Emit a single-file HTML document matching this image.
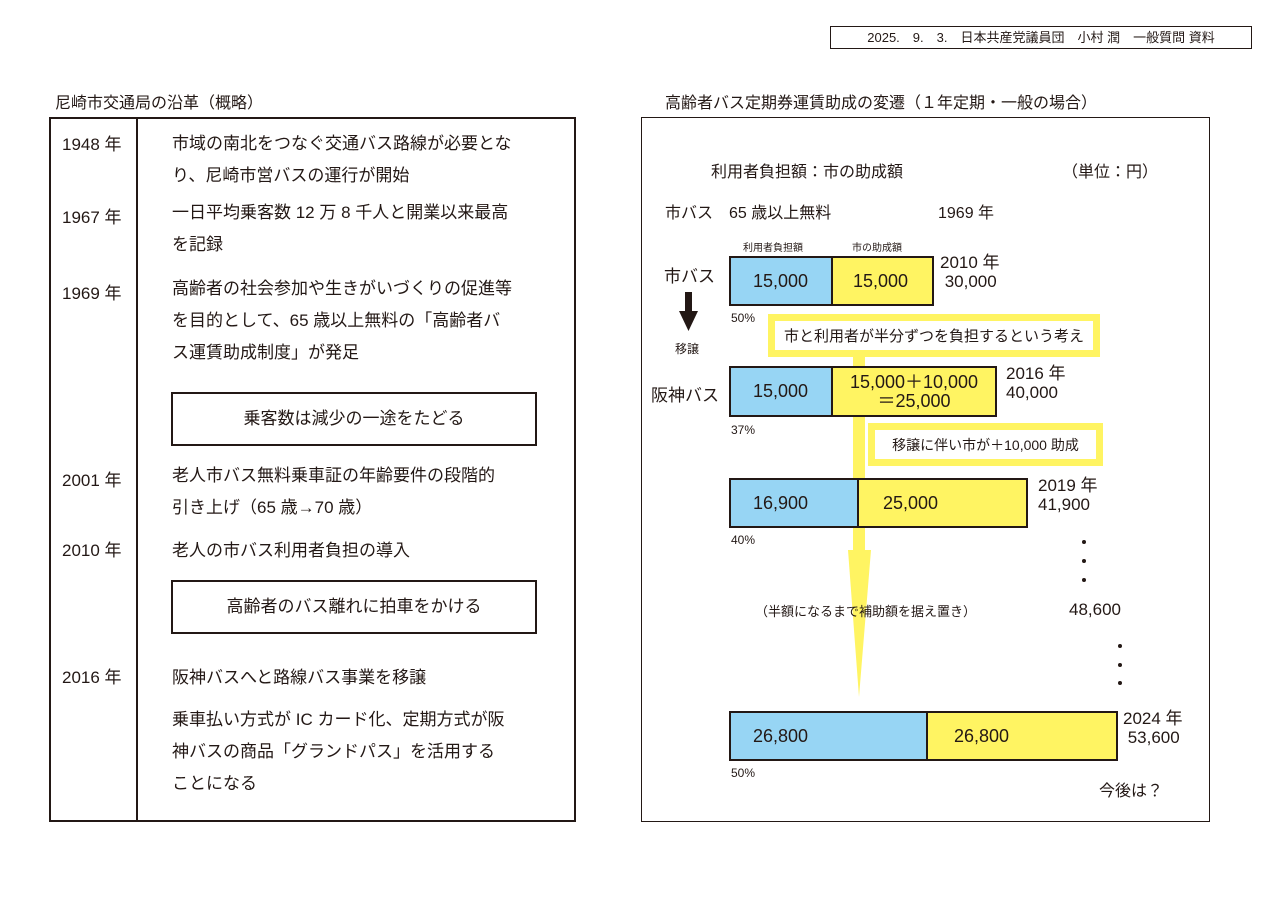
<!DOCTYPE html>
<html><head><meta charset="utf-8"><style>
body{margin:0;width:1273px;height:899px;background:#fff;position:relative;overflow:hidden;font-family:"Liberation Sans","Noto Sans CJK JP",sans-serif;color:#231815}
.a{position:absolute;white-space:nowrap}
.t{font-size:17px}
.bar{position:absolute;border:2px solid #231815;display:flex;box-sizing:border-box}
.bar div{height:100%;display:flex;align-items:center;font-size:18px;box-sizing:border-box}
.b{background:#97d5f4;border-right:2px solid #231815;flex-shrink:0}
.y{background:#fff462}
.call{position:absolute;border:7px solid #fff462;background:#fff;box-sizing:border-box;display:flex;align-items:center;justify-content:center;font-size:15px}
</style></head><body>
<div class="a" style="left:830px;top:26px;width:420px;height:21px;border:1px solid #231815;font-size:13px;line-height:21px;text-align:center">2025.　9.　3.　日本共産党議員団　小村 潤　一般質問 資料</div>
<div class="a" style="left:55px;top:89px;font-size:16px">尼崎市交通局の沿革（概略）</div>
<div class="a" style="left:49px;top:117px;width:523px;height:701px;border:2px solid #231815"></div>
<div class="a" style="left:136px;top:117px;width:2px;height:705px;background:#231815"></div>
<div class="a t" style="left:62px;top:130px">1948 年</div>
<div class="a t" style="left:172px;top:128px;line-height:32px">市域の南北をつなぐ交通バス路線が必要とな<br>り、尼崎市営バスの運行が開始</div>
<div class="a t" style="left:62px;top:203px">1967 年</div>
<div class="a t" style="left:172px;top:197px;line-height:32px">一日平均乗客数 12 万 8 千人と開業以来最高<br>を記録</div>
<div class="a t" style="left:62px;top:279px">1969 年</div>
<div class="a t" style="left:172px;top:273px;line-height:32px">高齢者の社会参加や生きがいづくりの促進等<br>を目的として、65 歳以上無料の「高齢者バ<br>ス運賃助成制度」が発足</div>
<div class="a t" style="left:171px;top:392px;width:362px;height:50px;border:2px solid #231815;text-align:center;line-height:50px">乗客数は減少の一途をたどる</div>
<div class="a t" style="left:62px;top:466px">2001 年</div>
<div class="a t" style="left:172px;top:460px;line-height:32px">老人市バス無料乗車証の年齢要件の段階的<br>引き上げ（65 歳→70 歳）</div>
<div class="a t" style="left:62px;top:536px">2010 年</div>
<div class="a t" style="left:172px;top:536px">老人の市バス利用者負担の導入</div>
<div class="a t" style="left:171px;top:580px;width:362px;height:50px;border:2px solid #231815;text-align:center;line-height:50px">高齢者のバス離れに拍車をかける</div>
<div class="a t" style="left:62px;top:663px">2016 年</div>
<div class="a t" style="left:172px;top:663px">阪神バスへと路線バス事業を移譲</div>
<div class="a t" style="left:172px;top:704px;line-height:32px">乗車払い方式が IC カード化、定期方式が阪<br>神バスの商品「グランドパス」を活用する<br>ことになる</div>

<div class="a" style="left:665px;top:89px;font-size:16px">高齢者バス定期券運賃助成の変遷（１年定期・一般の場合）</div>
<div class="a" style="left:641px;top:117px;width:567px;height:703px;border:1px solid #231815"></div>
<div class="a" style="left:711px;top:158px;font-size:16px">利用者負担額：市の助成額</div>
<div class="a" style="left:1062px;top:158px;font-size:16px">（単位：円）</div>
<div class="a" style="left:665px;top:199px;font-size:16px">市バス　65 歳以上無料</div>
<div class="a" style="left:938px;top:199px;font-size:16px">1969 年</div>
<div class="a" style="left:743px;top:239px;font-size:10px">利用者負担額</div>
<div class="a" style="left:852px;top:239px;font-size:10px">市の助成額</div>

<svg class="a" style="left:0;top:0" width="1273" height="899">
<rect x="853" y="356" width="12" height="196" fill="#fff462"/>
<polygon points="848,550 871,550 859,697" fill="#fff462"/>
<rect x="685" y="292" width="7" height="20" fill="#231815"/>
<polygon points="679,311 698,311 688.5,331" fill="#231815"/>
<g fill="#231815"><circle cx="1084" cy="542" r="2"/><circle cx="1084" cy="561" r="2"/><circle cx="1084" cy="580" r="2"/><circle cx="1120" cy="646" r="2"/><circle cx="1120" cy="665" r="2"/><circle cx="1120" cy="683" r="2"/></g>
</svg>

<div class="a" style="left:664px;top:262px;font-size:17px">市バス</div>
<div class="a" style="left:675px;top:340px;font-size:12px">移譲</div>
<div class="a" style="left:651px;top:381px;font-size:17px">阪神バス</div>

<div class="bar" style="left:729px;top:256px;width:205px;height:50px"><div class="b" style="width:102px;padding-left:22px">15,000</div><div class="y" style="flex:1;padding-left:20px">15,000</div></div>
<div class="a" style="left:940px;top:253px;font-size:17px;line-height:19px">2010 年<br>&nbsp;30,000</div>
<div class="a" style="left:731px;top:311px;font-size:12px">50%</div>
<div class="call" style="left:768px;top:314px;width:332px;height:43px">市と利用者が半分ずつを負担するという考え</div>

<div class="bar" style="left:729px;top:366px;width:268px;height:51px"><div class="b" style="width:102px;padding-left:22px">15,000</div><div class="y" style="flex:1;justify-content:center;text-align:center;line-height:19px">15,000＋10,000<br>＝25,000</div></div>
<div class="a" style="left:1006px;top:364px;font-size:17px;line-height:19px">2016 年<br>40,000</div>
<div class="a" style="left:731px;top:423px;font-size:12px">37%</div>
<div class="call" style="left:868px;top:423px;width:235px;height:43px;font-size:14px">移譲に伴い市が＋10,000 助成</div>

<div class="bar" style="left:729px;top:478px;width:299px;height:50px"><div class="b" style="width:128px;padding-left:22px">16,900</div><div class="y" style="flex:1;padding-left:24px">25,000</div></div>
<div class="a" style="left:1038px;top:476px;font-size:17px;line-height:19px">2019 年<br>41,900</div>
<div class="a" style="left:731px;top:533px;font-size:12px">40%</div>
<div class="a" style="left:755px;top:601px;font-size:13px">（半額になるまで補助額を据え置き）</div>
<div class="a" style="left:1069px;top:600px;font-size:17px">48,600</div>

<div class="bar" style="left:729px;top:711px;width:389px;height:50px"><div class="b" style="width:197px;padding-left:22px">26,800</div><div class="y" style="flex:1;padding-left:26px">26,800</div></div>
<div class="a" style="left:1123px;top:709px;font-size:17px;line-height:19px">2024 年<br>&nbsp;53,600</div>
<div class="a" style="left:731px;top:766px;font-size:12px">50%</div>
<div class="a" style="left:1099px;top:777px;font-size:16px">今後は？</div>
</body></html>
